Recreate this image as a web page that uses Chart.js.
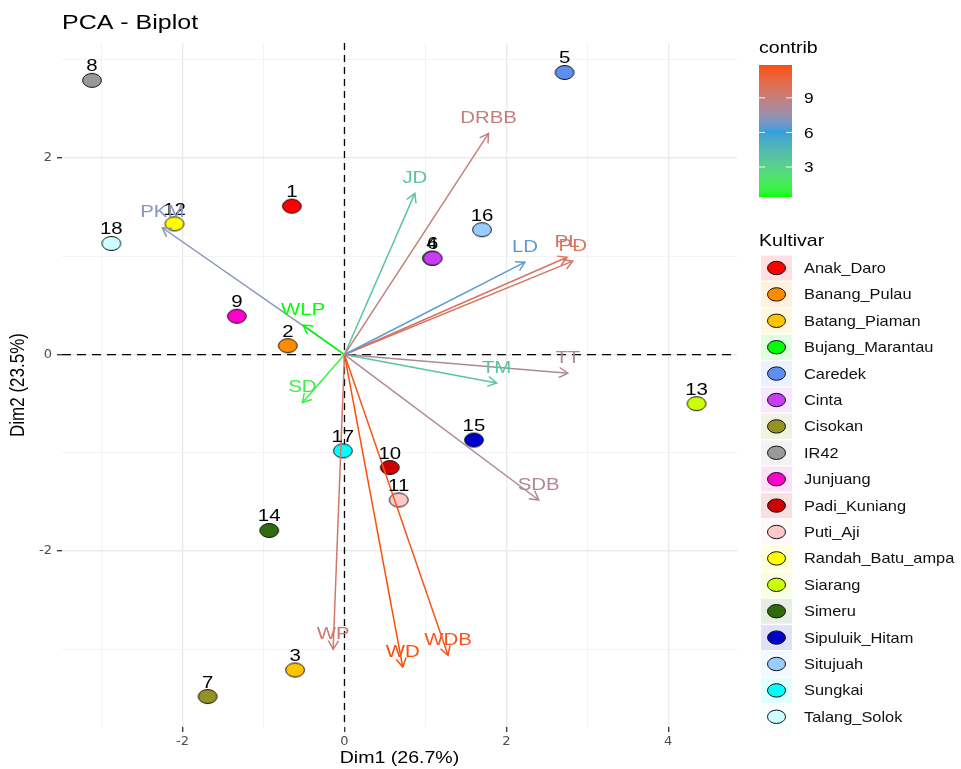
<!DOCTYPE html>
<html>
<head>
<meta charset="utf-8">
<script src="https://cdn.jsdelivr.net/npm/chart.js@4.4.1/dist/chart.umd.min.js"></script>
<style>
  html, body { margin: 0; padding: 0; background: #fff; }
  #wrap { width: 961px; height: 769px; position: relative; }
</style>
</head>
<body>
<div id="wrap"><canvas id="biplot" width="961" height="769"></canvas></div>
<script>
// individuals (numbered points) and their cultivar names / fill colours
const cultivars = ['Anak_Daro', 'Banang_Pulau', 'Batang_Piaman', 'Bujang_Marantau', 'Caredek', 'Cinta',
  'Cisokan', 'IR42', 'Junjuang', 'Padi_Kuniang', 'Puti_Aji', 'Randah_Batu_ampa', 'Siarang', 'Simeru',
  'Sipuluik_Hitam', 'Situjuah', 'Sungkai', 'Talang_Solok'];
const cultivarColors = ['#FF0000', '#FF8C00', '#FFC400', '#00FF00', '#5C8FEF', '#C83CF5',
  '#939323', '#999999', '#FF00CC', '#CC0000', '#FFC8C8', '#FFFF00', '#CCFF00', '#2E6B0E',
  '#0000CC', '#99CCFF', '#00FFFF', '#CCFFFF'];
const indX = [-0.65, -0.70, -0.61, 1.08, 2.72, 1.09, -1.69, -3.12, -1.33, 0.56, 0.67, -2.10, 4.35, -0.93, 1.60, 1.70, -0.02, -2.88];
const indY = [1.51, 0.09, -3.21, 0.98, 2.87, 0.98, -3.48, 2.79, 0.39, -1.15, -1.48, 1.33, -0.50, -1.79, -0.87, 1.27, -0.98, 1.13];

// variables (arrows)
const varNames = ['DRBB', 'JD', 'LD', 'PL', 'PD', 'TT', 'TM', 'SDB', 'WDB', 'WD', 'WP', 'SD', 'WLP', 'PKM'];
const varX = [1.78, 0.87, 2.23, 2.75, 2.82, 2.76, 1.88, 2.40, 1.28, 0.72, -0.14, -0.52, -0.51, -2.25];
const varY = [2.25, 1.64, 0.94, 0.99, 0.95, -0.19, -0.29, -1.48, -3.06, -3.18, -3.00, -0.49, 0.30, 1.29];
const varContrib = [8.9, 3.8, 6.5, 9.8, 9.7, 8.1, 3.9, 8.2, 11.6, 11.85, 9.5, 1.2, 0.4, 7.2];

const xTicks = [-2, 0, 2, 4];
const yTicks = [-2, 0, 2];
const contribTicks = [3, 6, 9];
const gradientCols = ['#00FF00', '#2E9FDF', '#FC4E07'];

const FONT = '"Liberation Sans", Arial, sans-serif';
const SX = 1.2; // reference text is drawn a bit wide

// --- colour ramp in Lab space (like ggplot's gradientn) ---
function hexToRgb(h) { return [1, 3, 5].map(i => parseInt(h.slice(i, i + 2), 16)); }
function toLin(c) { c /= 255; return c <= 0.04045 ? c / 12.92 : Math.pow((c + 0.055) / 1.055, 2.4); }
function fromLin(c) {
  const v = c <= 0.0031308 ? 12.92 * c : 1.055 * Math.pow(c, 1 / 2.4) - 0.055;
  return Math.round(Math.max(0, Math.min(1, v)) * 255);
}
const WP65 = [0.95047, 1, 1.08883];
function fLab(t) { return t > 216 / 24389 ? Math.cbrt(t) : (24389 / 27 * t + 16) / 116; }
function fInv(t) { return t > 6 / 29 ? t * t * t : 3 * (6 / 29) * (6 / 29) * (t - 4 / 29); }
function rgbToLab(rgb) {
  const [r, g, b] = rgb.map(toLin);
  const X = 0.4124 * r + 0.3576 * g + 0.1805 * b;
  const Y = 0.2126 * r + 0.7152 * g + 0.0722 * b;
  const Z = 0.0193 * r + 0.1192 * g + 0.9505 * b;
  const fx = fLab(X / WP65[0]), fy = fLab(Y / WP65[1]), fz = fLab(Z / WP65[2]);
  return [116 * fy - 16, 500 * (fx - fy), 200 * (fy - fz)];
}
function labToCss(lab) {
  const fy = (lab[0] + 16) / 116, fx = fy + lab[1] / 500, fz = fy - lab[2] / 200;
  const X = fInv(fx) * WP65[0], Y = fInv(fy) * WP65[1], Z = fInv(fz) * WP65[2];
  const r = 3.2406 * X - 1.5372 * Y - 0.4986 * Z;
  const g = -0.9689 * X + 1.8758 * Y + 0.0415 * Z;
  const b = 0.0557 * X - 0.2040 * Y + 1.0570 * Z;
  return 'rgb(' + fromLin(r) + ',' + fromLin(g) + ',' + fromLin(b) + ')';
}
const gradLab = gradientCols.map(c => rgbToLab(hexToRgb(c)));
const cMin = Math.min(...varContrib), cMax = Math.max(...varContrib);
function contribColor(v) {
  let t = (v - cMin) / (cMax - cMin);
  t = Math.max(0, Math.min(1, t)) * (gradLab.length - 1);
  const i = Math.min(Math.floor(t), gradLab.length - 2), f = t - i;
  const a = gradLab[i], b = gradLab[i + 1];
  return labToCss([0, 1, 2].map(k => a[k] + (b[k] - a[k]) * f));
}

function hexAlpha(hex, a) {
  const [r, g, b] = hexToRgb(hex);
  return 'rgba(' + r + ',' + g + ',' + b + ',' + a + ')';
}

// point marker: slightly wide ellipse, black outline
function ellipseMarker(color) {
  const c = document.createElement('canvas');
  c.width = 22; c.height = 17;
  const g = c.getContext('2d');
  g.beginPath();
  g.ellipse(11, 8.5, 9.4, 7, 0, 0, Math.PI * 2);
  g.fillStyle = color;
  g.fill();
  g.lineWidth = 1;
  g.strokeStyle = '#111';
  g.stroke();
  return c;
}

function wideText(ctx, txt, x, y, align, sx) {
  ctx.save();
  ctx.translate(x, y);
  ctx.scale(sx, 1);
  ctx.textAlign = align;
  ctx.fillText(txt, 0, 0);
  ctx.restore();
}

const arrowColors = varContrib.map(contribColor);

const datasets = [];
varNames.forEach((name, i) => {
  datasets.push({
    label: name,
    type: 'line',
    data: [{ x: 0, y: 0 }, { x: varX[i], y: varY[i] }],
    borderColor: arrowColors[i],
    borderWidth: 1.5,
    pointRadius: 0,
    fill: false,
    order: 0
  });
});
datasets.push({
  label: 'individuals',
  type: 'scatter',
  data: indX.map((x, i) => ({ x: x, y: indY[i] })),
  pointStyle: cultivarColors.map(ellipseMarker),
  order: 1
});

const biplotDecor = {
  id: 'biplotDecor',
  beforeDatasetsDraw(chart) {
    const { ctx, chartArea: a, scales: { x, y } } = chart;
    ctx.save();
    ctx.strokeStyle = '#000';
    ctx.lineWidth = 1.3;
    ctx.setLineDash([9, 6]);
    ctx.beginPath();
    ctx.moveTo(a.left, y.getPixelForValue(0));
    ctx.lineTo(a.right, y.getPixelForValue(0));
    ctx.stroke();
    ctx.setLineDash([7, 5]);
    ctx.beginPath();
    ctx.moveTo(x.getPixelForValue(0), a.top);
    ctx.lineTo(x.getPixelForValue(0), a.bottom);
    ctx.stroke();
    ctx.restore();
  },
  afterDatasetsDraw(chart) {
    const { ctx, scales: { x, y } } = chart;
    ctx.save();
    // point numbers
    ctx.fillStyle = '#000';
    ctx.font = '17px ' + FONT;
    ctx.textBaseline = 'alphabetic';
    indX.forEach((v, i) => {
      wideText(ctx, String(i + 1), x.getPixelForValue(v), y.getPixelForValue(indY[i]) - 9, 'center', SX);
    });
    // arrow heads and variable labels
    ctx.lineWidth = 1.5;
    varNames.forEach((name, i) => {
      const x0 = x.getPixelForValue(0), y0 = y.getPixelForValue(0);
      const x1 = x.getPixelForValue(varX[i]), y1 = y.getPixelForValue(varY[i]);
      const ang = Math.atan2(y1 - y0, x1 - x0);
      const len = 10, spread = Math.PI / 6;
      ctx.strokeStyle = arrowColors[i];
      ctx.beginPath();
      ctx.moveTo(x1 - len * Math.cos(ang - spread), y1 - len * Math.sin(ang - spread));
      ctx.lineTo(x1, y1);
      ctx.lineTo(x1 - len * Math.cos(ang + spread), y1 - len * Math.sin(ang + spread));
      ctx.stroke();
      ctx.fillStyle = arrowColors[i];
      ctx.font = '17px ' + FONT;
      ctx.textBaseline = 'middle';
      wideText(ctx, name, x1, y1 - 15, 'center', SX);
    });
    ctx.restore();
  },
  afterDraw(chart) {
    const { ctx, chartArea: a } = chart;
    ctx.save();
    ctx.fillStyle = '#000';
    ctx.textBaseline = 'alphabetic';
    // title
    ctx.font = '20px ' + FONT;
    wideText(ctx, 'PCA - Biplot', a.left, 29, 'left', 1.25);
    // axis titles
    ctx.font = '17px ' + FONT;
    wideText(ctx, 'Dim1 (26.7%)', (a.left + a.right) / 2, 763, 'center', 1.15);
    ctx.save();
    ctx.translate(24, (a.top + a.bottom) / 2);
    ctx.scale(SX, 1);
    ctx.rotate(-Math.PI / 2);
    ctx.textAlign = 'center';
    ctx.fillText('Dim2 (23.5%)', 0, 0);
    ctx.restore();

    // colour bar legend
    const bx = 759, bw = 33, bTop = 65, bBot = 197;
    ctx.font = '17px ' + FONT;
    wideText(ctx, 'contrib', bx, 53, 'left', 1.15);
    for (let py = bTop; py < bBot; py++) {
      const v = cMax - (py + 0.5 - bTop) / (bBot - bTop) * (cMax - cMin);
      ctx.fillStyle = contribColor(v);
      ctx.fillRect(bx, py, bw, 1.2);
    }
    ctx.font = '15px ' + FONT;
    ctx.textBaseline = 'middle';
    contribTicks.forEach(t => {
      const py = bBot - (t - cMin) / (cMax - cMin) * (bBot - bTop);
      ctx.strokeStyle = 'rgba(255,255,255,0.9)';
      ctx.lineWidth = 1;
      ctx.beginPath();
      ctx.moveTo(bx, py); ctx.lineTo(bx + 6, py);
      ctx.moveTo(bx + bw - 6, py); ctx.lineTo(bx + bw, py);
      ctx.stroke();
      ctx.fillStyle = '#000';
      wideText(ctx, String(t), bx + 45, py + 1, 'left', 1.15);
    });

    // cultivar legend
    ctx.textBaseline = 'alphabetic';
    ctx.fillStyle = '#000';
    ctx.font = '17px ' + FONT;
    wideText(ctx, 'Kultivar', bx, 246, 'left', 1.15);
    ctx.font = '14.5px ' + FONT;
    ctx.textBaseline = 'middle';
    cultivars.forEach((name, i) => {
      const cy = 268 + i * 26.4;
      ctx.fillStyle = hexAlpha(cultivarColors[i], 0.12);
      ctx.fillRect(761, cy - 12.5, 31, 25);
      ctx.beginPath();
      ctx.ellipse(776.5, cy, 9, 6.7, 0, 0, Math.PI * 2);
      ctx.fillStyle = cultivarColors[i];
      ctx.fill();
      ctx.strokeStyle = '#111';
      ctx.lineWidth = 1;
      ctx.stroke();
      ctx.fillStyle = '#111';
      wideText(ctx, name, 804, cy + 1, 'left', 1.13);
    });
    ctx.restore();
  }
};

function gridColor(c) { return c.tick && c.tick.value % 2 === 0 ? '#EBEBEB' : '#F2F2F2'; }
function gridWidth(c) { return c.tick && c.tick.value % 2 === 0 ? 1.4 : 0.9; }
function tickColor(c) { return c.tick && c.tick.value % 2 === 0 ? '#333333' : 'rgba(0,0,0,0)'; }

new Chart(document.getElementById('biplot').getContext('2d'), {
  type: 'scatter',
  data: { datasets: datasets },
  options: {
    responsive: false,
    animation: false,
    layout: { padding: { top: 43, right: 224, bottom: 0, left: 0 } },
    plugins: { legend: { display: false }, tooltip: { enabled: false }, title: { display: false } },
    scales: {
      x: {
        type: 'linear',
        min: -3.49,
        max: 4.85,
        afterFit(s) { s.height = 42; },
        border: { display: false },
        grid: { color: gridColor, lineWidth: gridWidth, tickColor: tickColor, tickLength: 5, tickWidth: 1.3 },
        ticks: {
          stepSize: 1,
          includeBounds: false,
          autoSkip: false,
          maxRotation: 0,
          padding: 2,
          color: '#4D4D4D',
          font: { family: '"DejaVu Sans", sans-serif', size: 13 },
          callback: v => (xTicks.includes(v) ? String(v) : '')
        }
      },
      y: {
        type: 'linear',
        min: -3.79,
        max: 3.17,
        afterFit(s) { s.width = 62; },
        border: { display: false },
        grid: { color: gridColor, lineWidth: gridWidth, tickColor: tickColor, tickLength: 5, tickWidth: 1.3 },
        ticks: {
          stepSize: 1,
          includeBounds: false,
          autoSkip: false,
          padding: 5,
          color: '#4D4D4D',
          font: { family: '"DejaVu Sans", sans-serif', size: 13 },
          callback: v => (yTicks.includes(v) ? String(v) : '')
        }
      }
    }
  },
  plugins: [biplotDecor]
});
</script>
</body>
</html>
